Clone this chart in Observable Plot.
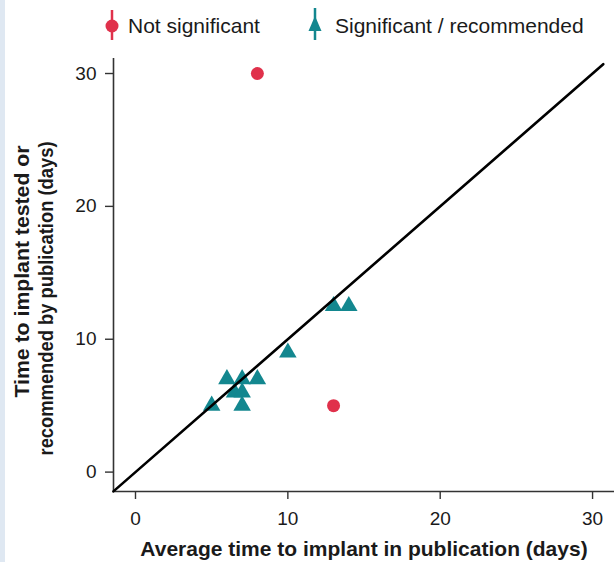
<!DOCTYPE html>
<html>
<head>
<meta charset="utf-8">
<script src="https://cdn.jsdelivr.net/npm/d3@7"></script>
<script src="https://cdn.jsdelivr.net/npm/@observablehq/plot@0.6"></script>
<style>
  body { margin: 0; background: #fff; font-family: "Liberation Sans", Arial, sans-serif; }
  #wrap { position: relative; width: 614px; height: 562px; overflow: hidden; background: #fff; }
  #strip { position: absolute; left: 0; top: 0; width: 5px; height: 562px; background: #dfe8f2; }
  #legend { display: block; }
  #chart svg { display: block; }
</style>
</head>
<body>
<div id="wrap">
  <div id="strip"></div>
  <svg id="legend" width="614" height="45"></svg>
  <div id="chart"></div>
</div>
<script>
// ---- data ----
const groups = ["Not significant", "Significant / recommended"];
const groupColors = ["#e0314b", "#13878f"];
const nsX = [8, 13];
const nsY = [30, 5];
const sigX = [5, 6, 7, 8, 6.5, 7, 7, 10, 13, 14];
const sigY = [5, 7, 7, 7, 6, 6, 5, 9, 12.5, 12.5];
const xTicks = [0, 10, 20, 30];
const yTicks = [0, 10, 20, 30];
const refLineX = [-1.45, 30.7];
const refLineY = [-1.45, 30.7];
const xTitle = "Average time to implant in publication (days)";
const yTitle1 = "Time to implant tested or";
const yTitle2 = "recommended by publication (days)";
const xDomain = [-1.444, 31.44];
const yDomain = [-1.46, 31.13];

const font = "'Liberation Sans', Arial, sans-serif";

// ---- legend ----
const leg = d3.select("#legend");
leg.append("line").attr("x1", 112).attr("x2", 112).attr("y1", 10).attr("y2", 40)
  .attr("stroke", groupColors[0]).attr("stroke-width", 2.5);
leg.append("circle").attr("cx", 112).attr("cy", 26).attr("r", 6.5).attr("fill", groupColors[0]);
leg.append("text").attr("x", 128).attr("y", 33).attr("font-size", 21).attr("font-family", font)
  .attr("fill", "#1a1a1a").text(groups[0]);
leg.append("line").attr("x1", 315).attr("x2", 315).attr("y1", 8).attr("y2", 40)
  .attr("stroke", groupColors[1]).attr("stroke-width", 2.5);
leg.append("path").attr("d", "M315,16L321.5,31L308.5,31Z").attr("fill", groupColors[1]);
leg.append("text").attr("x", 335).attr("y", 33).attr("font-size", 21).attr("font-family", font)
  .attr("fill", "#1a1a1a").text(groups[1]);

// ---- chart ----
const ns = nsX.map((x, i) => ({x, y: nsY[i], g: groups[0]}));
const sig = sigX.map((x, i) => ({x, y: sigY[i], g: groups[1]}));
const ref = refLineX.map((x, i) => ({x, y: refLineY[i]}));

const plot = Plot.plot({
  width: 614,
  height: 517,
  marginLeft: 113,
  marginRight: 0,
  marginTop: 13,
  marginBottom: 71,
  x: {domain: xDomain},
  y: {domain: yDomain},
  style: {fontFamily: font, fontSize: "19px", color: "#1a1a1a", background: "transparent", overflow: "visible"},
  marks: [
    Plot.axisX(xTicks, {tickSize: 8, tickPadding: 12, label: null, fontSize: 19, stroke: "#333", strokeWidth: 1.4}),
    Plot.axisY(yTicks, {tickSize: 8, tickPadding: 9, label: null, fontSize: 19, stroke: "#333", strokeWidth: 1.4}),
    Plot.ruleX([xDomain[0]], {stroke: "#333", strokeWidth: 1.6}),
    Plot.ruleY([yDomain[0]], {stroke: "#333", strokeWidth: 1.6}),
    Plot.dot(sig, {x: "x", y: "y", symbol: "triangle", r: 6.5, fill: groupColors[1], stroke: "none"}),
    Plot.dot(ns, {x: "x", y: "y", r: 6.5, fill: groupColors[0], stroke: "none"}),
    Plot.line(ref, {x: "x", y: "y", stroke: "#000", strokeWidth: 2.6}),
    Plot.text([xTitle], {frameAnchor: "bottom", dy: 64, lineAnchor: "bottom", textAnchor: "middle",
      fontSize: 21, fontWeight: "bold", fill: "#1a1a1a"}),
    Plot.text([yTitle1], {frameAnchor: "bottom-left", dx: -85, dy: -94, rotate: -90, lineAnchor: "bottom",
      textAnchor: "start", fontSize: 21, fontWeight: "bold", fill: "#1a1a1a"}),
    Plot.text([yTitle2], {frameAnchor: "bottom-left", dx: -61, dy: -36, rotate: -90, lineAnchor: "bottom",
      textAnchor: "start", fontSize: 21, fontWeight: "bold", fill: "#1a1a1a"})
  ]
});
document.getElementById("chart").appendChild(plot);

// fit the rotated titles to the reference lengths
d3.select(plot).selectAll("text").each(function() {
  const t = this.textContent;
  if (t === yTitle1) d3.select(this).attr("textLength", 252).attr("lengthAdjust", "spacingAndGlyphs");
  if (t === yTitle2) d3.select(this).attr("textLength", 314).attr("lengthAdjust", "spacingAndGlyphs");
});
</script>
</body>
</html>
